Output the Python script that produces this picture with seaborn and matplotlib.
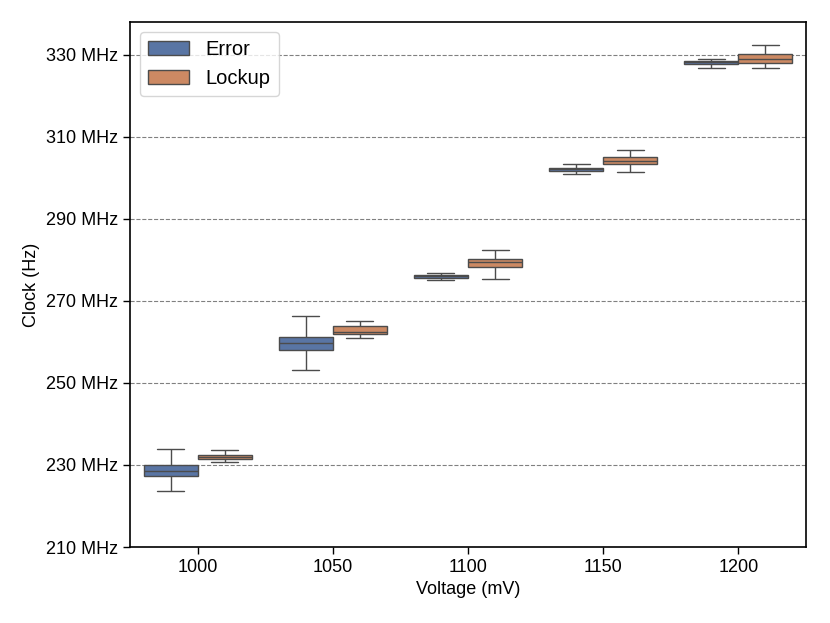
import numpy as np
import pandas as pd
import matplotlib
matplotlib.use("Agg")
import matplotlib.pyplot as plt
import seaborn as sns

voltages = ["1000", "1050", "1100", "1150", "1200"]
series = ["Error", "Lockup"]
# five-number summaries (MHz): min, q1, median, q3, max
error_stats = [
    [223.6, 227.3, 228.5, 230.0, 233.8],
    [253.1, 258.0, 259.8, 261.3, 266.4],
    [275.2, 275.5, 276.0, 276.4, 276.9],
    [301.0, 301.6, 302.1, 302.5, 303.4],
    [326.9, 327.8, 328.2, 328.6, 329.0],
]
lockup_stats = [
    [230.8, 231.5, 232.0, 232.5, 233.7],
    [260.9, 261.9, 262.4, 264.0, 265.1],
    [275.4, 278.2, 279.4, 280.2, 282.4],
    [301.4, 303.5, 304.2, 305.0, 306.8],
    [326.7, 328.1, 329.1, 330.2, 332.4],
]
yticks = [210, 230, 250, 270, 290, 310, 330]

rows = []
for name, stats in zip(series, [error_stats, lockup_stats]):
    for v, s in zip(voltages, stats):
        for val in s:
            rows.append({"Voltage (mV)": v, "Clock": val, "Type": name})
df = pd.DataFrame(rows)

sns.set_theme(style="ticks")
plt.rcParams["font.family"] = ["Liberation Sans", "DejaVu Sans"]
plt.rcParams["text.color"] = "black"
plt.rcParams["axes.labelcolor"] = "black"
plt.rcParams["xtick.color"] = "black"
plt.rcParams["ytick.color"] = "black"

fig = plt.figure(figsize=(8.3, 6.23), dpi=100)
ax = fig.add_axes([130/830, 1-547/623, (806-130)/830, (547-22)/623])
sns.boxplot(data=df, x="Voltage (mV)", y="Clock", hue="Type", order=voltages,
            hue_order=series, palette="deep", whis=(0, 100), ax=ax)

ax.set_ylim(210, 338)
ax.set_xlim(-0.5, 4.5)
ax.set_yticks(yticks)
ax.set_yticklabels([f"{t} MHz" for t in yticks])
ax.yaxis.grid(True, linestyle="--", color="gray", linewidth=0.8)
ax.set_axisbelow(True)
ax.tick_params(labelsize=13, length=5, width=1)
ax.set_xlabel("Voltage (mV)", fontsize=13)
ax.set_ylabel("Clock (Hz)", fontsize=13)
for sp in ax.spines.values():
    sp.set_visible(True)
    sp.set_color("black")
    sp.set_linewidth(1.2)
leg = ax.legend(loc="upper left", fontsize=14.5, title=None,
                handlelength=2.05, handleheight=0.7, handletextpad=0.8,
                borderaxespad=0.5)
fig.savefig("out.png", dpi=100)
